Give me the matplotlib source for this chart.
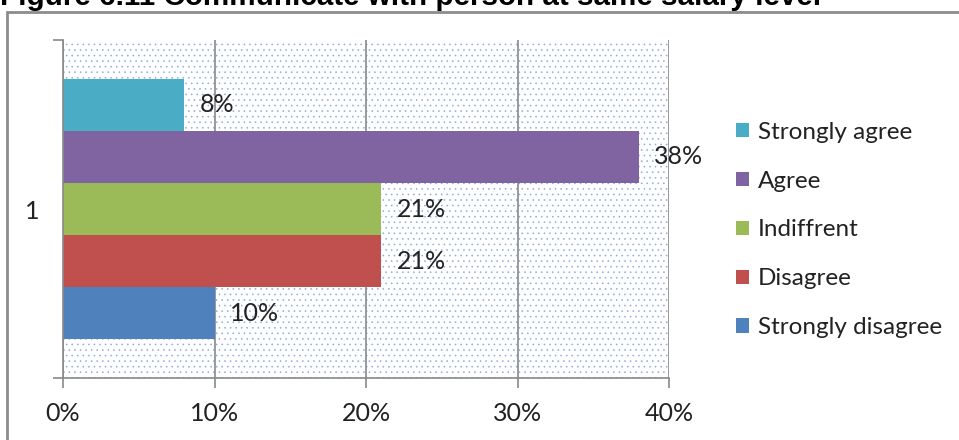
import matplotlib
matplotlib.use('Agg')
import matplotlib.pyplot as plt
from matplotlib.patches import Rectangle, Patch

plt.rcParams['font.family'] = ['Lato', 'DejaVu Sans']
plt.rcParams['hatch.linewidth'] = 0.4

title = 'Figure 6.11 Communicate with person at same salary level'
categories = ['1']
# series listed bottom bar first
responses = ['Strongly disagree', 'Disagree', 'Indiffrent', 'Agree', 'Strongly agree']
shares = [10, 21, 21, 38, 8]
colors = ['#4F81BD', '#C0504D', '#9BBB59', '#8064A2', '#4BACC6']
xticks = [0, 10, 20, 30, 40]

grey = '#898989'
txt = '#222222'

fig = plt.figure(figsize=(9.59, 4.40), dpi=100)
fig.patch.set_facecolor('white')

# outer frame, runs off the right and bottom edges
top = 1 - 12 / 440
fig.add_artist(Rectangle((7 / 959, -0.2), 1.2, top + 0.2, transform=fig.transFigure,
                         facecolor='none', edgecolor='#8c8c8c', lw=2.0, clip_on=False))
fig.text(0.0, 1 - 5 / 440, title, fontsize=21.3, fontweight='bold', family='Liberation Sans',
         ha='left', va='baseline', color='black')

ax = fig.add_axes([63 / 959, 1 - 378 / 440, (669 - 63) / 959, (378 - 40) / 440])
ax.set_facecolor('white')
ax.add_patch(Rectangle((0, 0), 1, 1, transform=ax.transAxes, facecolor='white',
                       edgecolor='#8aaade', hatch='...', lw=0, zorder=0))

h = 0.77 / len(responses)
for i, (name, val, col) in enumerate(zip(responses, shares, colors)):
    y = (i - (len(responses) - 1) / 2) * h
    ax.barh(y, val, height=h, color=col, label=name, zorder=2)
    ax.annotate('{}%'.format(val), (val, y), xytext=(11, 0), textcoords='offset points',
                ha='left', va='center', fontsize=18, color=txt)

ax.set_xlim(0, 40)
ax.set_ylim(-0.5, 0.5)
ax.set_xticks(xticks)
ax.set_xticklabels(['{}%'.format(t) for t in xticks], fontsize=18, color=txt)
ax.set_yticks([0])
ax.set_yticklabels(categories, fontsize=18, color=txt)
ax.set_yticks([-0.5, 0.5], minor=True)
ax.tick_params(axis='x', direction='out', length=7, width=1.2, color=grey, pad=10)
ax.tick_params(axis='y', which='major', length=0, pad=17)
ax.tick_params(axis='y', which='minor', direction='out', length=7, width=1.2, color=grey)

ax.grid(axis='x', color=grey, lw=1.2, zorder=1)
ax.set_axisbelow(True)
for s in ['top', 'right']:
    ax.spines[s].set_visible(False)
for s in ['left', 'bottom']:
    ax.spines[s].set_color(grey)
    ax.spines[s].set_linewidth(1.2)

handles = [Patch(facecolor=c, edgecolor='none') for c in colors][::-1]
labels = responses[::-1]
fig.legend(handles, labels, loc='center left', bbox_to_anchor=(714 / 959, 1 - 230 / 440),
           frameon=False, fontsize=17.5, handlelength=0.55, handleheight=0.55,
           handletextpad=0.35, labelspacing=1.15, labelcolor=txt)

fig.savefig('out.png', dpi=100)
